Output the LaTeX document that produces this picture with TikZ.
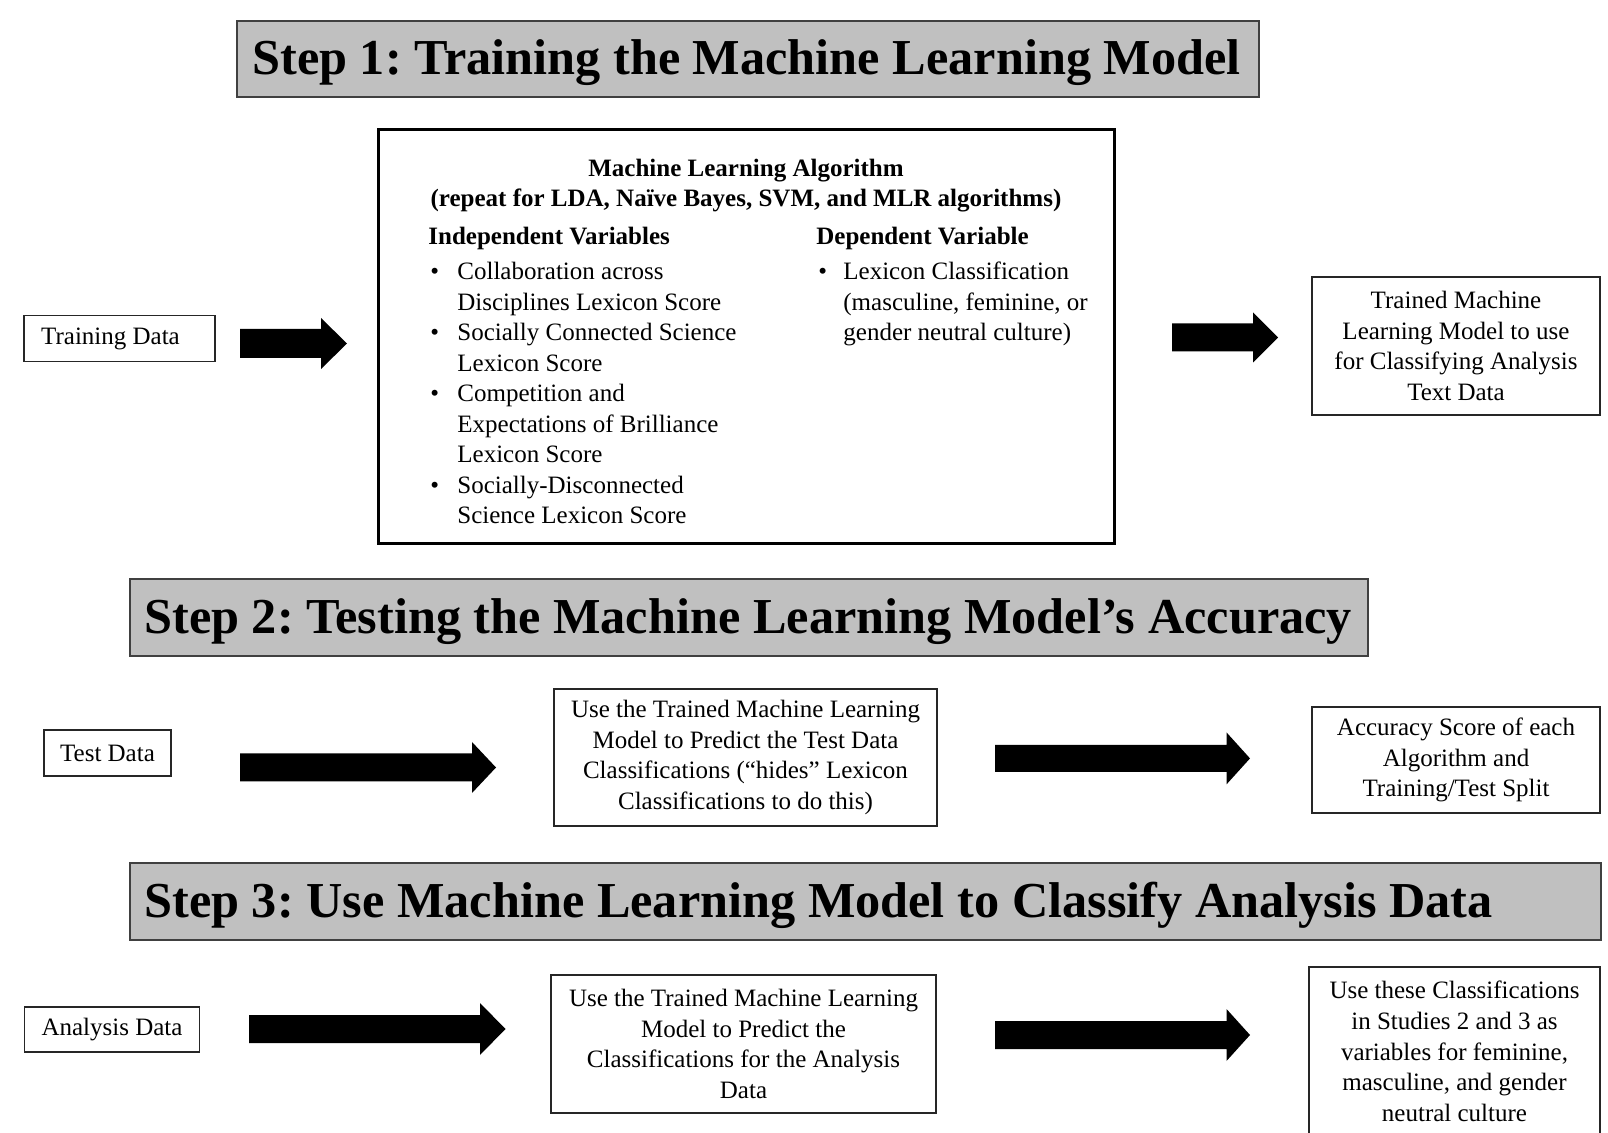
\documentclass[tikz,border=0pt]{standalone}
\usepackage{fontspec}
\setmainfont{Liberation Serif}
\frenchspacing
\definecolor{titlegray}{HTML}{C0C0C0}
\definecolor{titleline}{HTML}{404040}
\newcommand{\blockarr}[6]{%
  \fill ({#1},{#4-#5}) -- ({#2},{#4-#5}) -- ({#2},{#4-#6}) -- ({#3},{#4})
    -- ({#2},{#4+#6}) -- ({#2},{#4+#5}) -- ({#1},{#4+#5}) -- cycle;}
\begin{document}
\begin{tikzpicture}[x=0.5pt,y=-0.5pt,
  bodyfont/.style={font=\fontsize{12.5}{15.35}\selectfont},
  box/.style={draw=black!85, line width=0.75pt, inner sep=0pt, align=center, bodyfont},
  titlebox/.style={draw=titleline, fill=titlegray, line width=1pt, inner sep=0pt, anchor=north west},
  titletext/.style={anchor=base west, inner sep=0pt, font=\fontsize{25.15}{30}\selectfont\bfseries},
  line/.style={anchor=base west, inner sep=0pt, font=\fontsize{12.5}{15.1}\selectfont},
  bline/.style={line, font=\fontsize{12.5}{15.1}\selectfont\bfseries},
]
\useasboundingbox (0,0) rectangle (1608,1133);
\clip (0,0) rectangle (1608,1133);
\fill[white] (0,0) rectangle (1608,1133);

% ---------- Step 1 ----------
\node[titlebox, minimum width=511pt, minimum height=38pt] (t1box) at (236,20) {};
\node[titletext] (t1) at (252,75) {Step 1: Training the Machine Learning Model};

\node[box, minimum width=95.5pt, minimum height=23pt] (train) at (119.5,338.5) {Training Data\hspace{9pt}};

\node[draw=black, line width=1.5pt, inner sep=0pt, minimum width=368pt, minimum height=206.75pt] (algo) at (746,336.75) {};
\node[anchor=base, inner sep=0pt, font=\fontsize{12.5}{15.1}\selectfont\bfseries] (alg1) at (746,176.5) {Machine Learning Algorithm};
\node[anchor=base, inner sep=0pt, font=\fontsize{12.5}{15.1}\selectfont\bfseries] (alg2) at (746,206.5) {(repeat for LDA, Naïve Bayes, SVM, and MLR algorithms)};
\node[bline] (indep) at (428,244.5) {Independent Variables};
\node[bline] (dep) at (816,244.5) {Dependent Variable};

\node[line] (b1) at (430,280) {•};
\node[line] (l1) at (457,280) {Collaboration across};
\node[line] (l2) at (457,310.45) {Disciplines Lexicon Score};
\node[line] (b2) at (430,340.9) {•};
\node[line] (l3) at (457,340.9) {Socially Connected Science};
\node[line] (l4) at (457,371.35) {Lexicon Score};
\node[line] (b3) at (430,401.8) {•};
\node[line] (l5) at (457,401.8) {Competition and};
\node[line] (l6) at (457,432.25) {Expectations of Brilliance};
\node[line] (l7) at (457,462.7) {Lexicon Score};
\node[line] (b4) at (430,493.15) {•};
\node[line] (l8) at (457,493.15) {Socially-Disconnected};
\node[line] (l9) at (457,523.6) {Science Lexicon Score};

\node[line] (b5) at (818,280) {•};
\node[line] (r1) at (843,280) {Lexicon Classification};
\node[line] (r2) at (843,310.45) {(masculine, feminine, or};
\node[line] (r3) at (843,340.9) {gender neutral culture)};

\node[box, minimum width=144pt, minimum height=69pt] (trained) at (1456,346) {Trained Machine\\Learning Model to use\\for Classifying Analysis\\Text Data};

\blockarr{240}{321}{347}{343.5}{14.5}{25.5}
\blockarr{1172}{1253}{1278}{337.5}{14}{25}

% ---------- Step 2 ----------
\node[titlebox, minimum width=619pt, minimum height=38.5pt] (t2box) at (129,578) {};
\node[titletext] (t2) at (144,634) {Step 2: Testing the Machine Learning Model’s Accuracy};

\node[box, minimum width=63.5pt, minimum height=23pt] (test) at (107.5,753) {Test Data};
\node[box, minimum width=191.5pt, minimum height=68.5pt] (pred2) at (745.5,757.5) {Use the Trained Machine Learning\\Model to Predict the Test Data\\Classifications (“hides” Lexicon\\Classifications to do this)};
\node[box, minimum width=144pt, minimum height=53pt] (acc) at (1456,760) {Accuracy Score of each\\Algorithm and\\Training/Test Split};

\blockarr{240}{472}{496}{767.5}{14}{25.5}
\blockarr{995}{1226.5}{1250}{758.4}{13.5}{26}

% ---------- Step 3 ----------
\node[titlebox, minimum width=735.5pt, minimum height=38.5pt] (t3box) at (129,862) {};
\node[titletext] (t3) at (144,918) {Step 3: Use Machine Learning Model to Classify Analysis Data};

\node[box, minimum width=87.5pt, minimum height=22.5pt] (analysis) at (112,1029.5) {Analysis Data};
\node[box, minimum width=192.5pt, minimum height=69pt] (pred3) at (743.5,1044) {Use the Trained Machine Learning\\Model to Predict the\\Classifications for the Analysis\\Data};
\node[box, minimum width=145.5pt, minimum height=84.5pt] (usethese) at (1454.5,1051.5) {Use these Classifications\\in Studies 2 and 3 as\\variables for feminine,\\masculine, and gender\\neutral culture};

\blockarr{249}{480}{505.5}{1029}{14}{26}
\blockarr{995}{1226.5}{1250}{1035}{14}{26}
\end{tikzpicture}
\end{document}
